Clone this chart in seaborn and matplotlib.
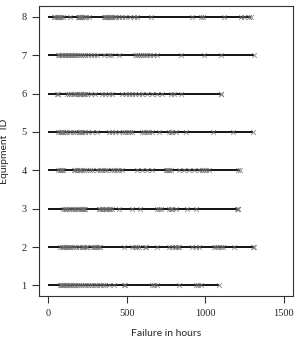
import matplotlib
matplotlib.use("Agg")
import matplotlib.pyplot as plt
import pandas as pd
import seaborn as sns

# failure times (hours) per equipment
eq1 = [75, 82, 88, 95, 102, 110, 118, 128, 139, 150, 160, 170, 180, 192, 205, 220, 235,
       250, 265, 280, 298, 312, 330, 345, 362, 384, 416, 481, 490, 662, 675, 694, 833,
       940, 955, 972, 1090]
eq2 = [75, 84, 92, 100, 110, 120, 128, 139, 150, 162, 175, 192, 213, 222, 230, 238, 245,
       278, 290, 300, 312, 320, 331, 481, 534, 550, 562, 577, 619, 625, 694, 769, 790,
       805, 815, 825, 833, 919, 940, 961, 1058, 1070, 1084, 1100, 1111, 1186, 1303, 1310]
eq3 = [96, 104, 112, 120, 128, 149, 160, 172, 182, 192, 210, 213, 218, 224, 235, 320, 330,
       340, 350, 358, 366, 374, 384, 395, 406, 449, 534, 587, 694, 706, 716, 769, 780,
       790, 812, 887, 940, 1200, 1207, 1212]
eq4 = [64, 72, 80, 88, 96, 160, 172, 185, 192, 200, 210, 225, 240, 262, 278, 310, 328,
       342, 360, 374, 406, 420, 438, 452, 470, 566, 598, 630, 662, 748, 755, 762, 770,
       780, 833, 865, 897, 929, 961, 980, 993, 1005, 1025, 1212, 1220]
eq5 = [64, 72, 80, 88, 96, 107, 120, 139, 155, 171, 192, 200, 206, 213, 235, 255, 278,
       310, 384, 405, 427, 448, 475, 491, 505, 520, 534, 598, 612, 628, 640, 662, 705,
       769, 780, 790, 812, 876, 1047, 1175, 1303]
eq6 = [53, 58, 117, 130, 145, 160, 172, 185, 195, 203, 210, 218, 226, 235, 248, 270, 300,
       340, 360, 384, 406, 470, 492, 512, 534, 555, 577, 598, 630, 662, 694, 726, 780,
       801, 844, 1098, 1100]
eq7 = [62, 70, 78, 86, 95, 104, 113, 122, 132, 142, 152, 162, 172, 182, 196, 210, 222,
       235, 255, 272, 290, 310, 352, 384, 398, 449, 555, 565, 578, 590, 602, 618, 632,
       648, 666, 694, 844, 994, 1100, 1310]
eq8 = [38, 45, 53, 60, 68, 75, 81, 96, 139, 188, 193, 198, 204, 209, 216, 224, 239, 256,
       352, 360, 367, 376, 384, 392, 399, 408, 416, 431, 448, 470, 491, 523, 545, 566,
       652, 919, 975, 985, 1122, 1229, 1250, 1282, 1292]

equipment = [eq1, eq2, eq3, eq4, eq5, eq6, eq7, eq8]


def build():
    rows = []
    for i, times in enumerate(equipment, start=1):
        rows.append(pd.DataFrame({"equipment": i, "hours": times}))
    return pd.concat(rows, ignore_index=True)


def main(df):
    sns.set_style("white")
    fig = plt.figure(figsize=(2.98, 3.4), dpi=100)
    ax = fig.add_axes([0.131, 0.129, 0.852, 0.853])

    ends = df.groupby("equipment")["hours"].max()
    ax.hlines(ends.index, 0, ends.values, color="black", lw=1.3, zorder=2)

    sns.scatterplot(data=df, x="hours", y="equipment", marker="x", color="0.45",
                    s=12, linewidth=0.7, alpha=0.75, ax=ax, zorder=3, legend=False)

    ax.set_xlim(-60, 1560)
    ax.set_ylim(0.72, 8.28)
    ax.set_xticks([0, 500, 1000, 1500])
    ax.set_yticks(range(1, 9))
    ax.tick_params(direction="out", length=5, width=0.8, color="0.2",
                   left=True, bottom=True, labelsize=7.5)
    for lab in ax.get_xticklabels() + ax.get_yticklabels():
        lab.set_family(["Liberation Serif", "DejaVu Serif"])
    ax.yaxis.set_tick_params(pad=4)
    ax.xaxis.set_tick_params(pad=4)

    for s in ax.spines.values():
        s.set_color("0.2")
        s.set_linewidth(0.8)

    ax.set_xlabel("Failure in hours", family=["Lato", "DejaVu Sans"], fontsize=7.5,
                  color="0.15", labelpad=8)
    ax.set_ylabel("Equipment  ID", family=["Lato", "DejaVu Sans"], fontsize=7.5,
                  color="0.15", labelpad=9)

    fig.savefig("out.png", dpi=100)


if __name__ == "__main__":
    main(build())
